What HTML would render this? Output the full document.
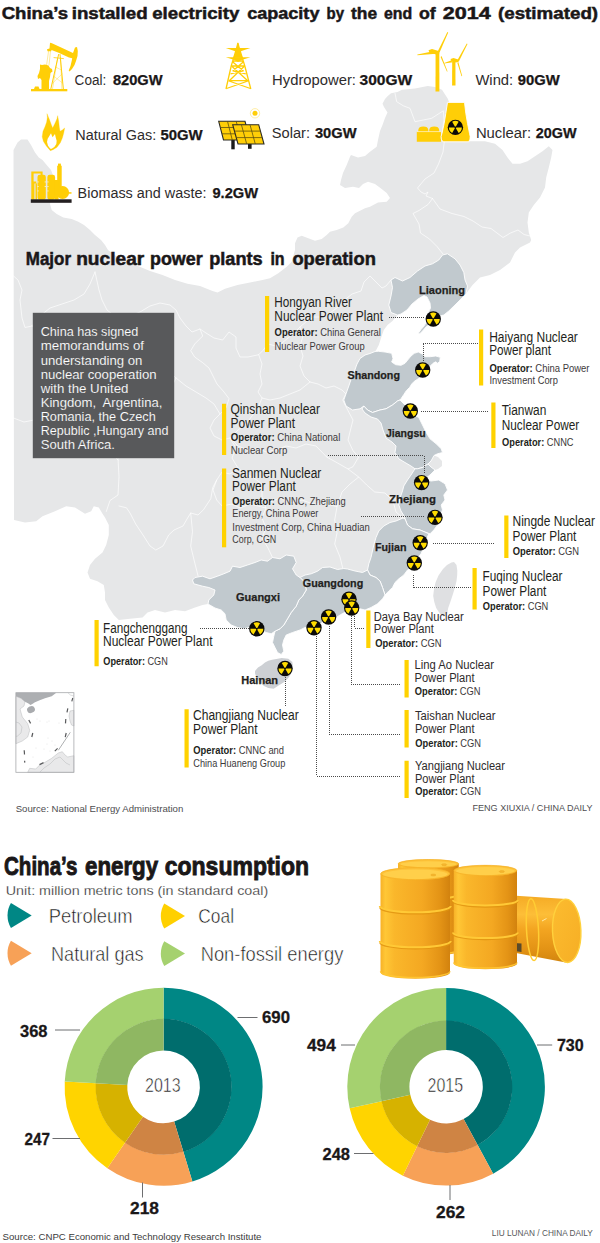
<!DOCTYPE html><html><head><meta charset="utf-8"><title>China energy</title>
<style>html,body{margin:0;padding:0;background:#fff}body{width:600px;height:1243px;overflow:hidden;font-family:"Liberation Sans",sans-serif}svg{display:block}text{font-family:"Liberation Sans",sans-serif}</style></head><body>
<svg width="600" height="1243" viewBox="0 0 600 1243">
<defs>
<linearGradient id="bg1" x1="0" x2="1" y1="0" y2="0"><stop offset="0" stop-color="#f7b127"/><stop offset="0.07" stop-color="#ffc736"/><stop offset="0.2" stop-color="#fab72b"/><stop offset="0.6" stop-color="#f4a822"/><stop offset="0.85" stop-color="#e49416"/><stop offset="1" stop-color="#d2820e"/></linearGradient>
<linearGradient id="bg2" x1="0" x2="0" y1="0" y2="1"><stop offset="0" stop-color="#f5ab25"/><stop offset="0.28" stop-color="#fdbe38"/><stop offset="0.5" stop-color="#f3a521"/><stop offset="0.8" stop-color="#e39315"/><stop offset="1" stop-color="#d2850e"/></linearGradient>
<linearGradient id="bg3" x1="0" x2="1" y1="0" y2="1"><stop offset="0" stop-color="#fcbc30"/><stop offset="1" stop-color="#f6ae24"/></linearGradient>
</defs>
<g id="map">
<path d="M13.5,150.0 L17.5,142.5 L21.0,139.5 L27.5,139.5 L31.0,145.0 L35.0,152.5 L38.8,157.5 L42.5,160.0 L47.5,166.0 L51.0,170.0 L54.0,178.0 L54.0,190.0 L51.0,200.0 L50.0,204.0 L51.7,210.0 L56.7,214.0 L63.3,217.5 L71.7,219.0 L78.3,221.7 L84.0,225.0 L90.0,230.0 L95.0,235.0 L101.0,240.0 L105.0,245.0 L108.0,250.0 L116.0,256.0 L126.0,261.0 L138.0,266.0 L150.0,271.0 L162.5,275.0 L175.0,280.0 L187.5,283.8 L200.0,286.0 L212.5,291.0 L217.5,292.5 L225.0,288.8 L237.5,285.0 L250.0,282.5 L262.5,280.0 L270.0,278.3 L278.3,273.3 L286.7,266.7 L291.7,261.7 L295.0,250.0 L295.0,243.3 L297.5,237.5 L301.7,235.8 L308.3,238.3 L315.0,240.8 L321.7,239.0 L326.7,235.0 L330.0,231.7 L336.7,230.0 L343.3,227.5 L348.3,223.3 L351.7,216.7 L355.0,213.3 L360.0,210.8 L365.0,208.3 L370.0,206.7 L378.0,202.5 L386.7,201.7 L390.0,198.0 L386.7,193.0 L381.7,189.0 L375.0,184.0 L368.0,181.7 L363.0,184.0 L359.0,188.0 L353.0,186.7 L345.0,188.0 L340.0,185.0 L341.0,180.0 L343.0,173.0 L346.7,165.0 L350.0,156.7 L351.0,155.0 L358.0,157.5 L365.0,156.0 L370.0,151.7 L376.7,146.7 L378.0,140.0 L380.0,131.0 L382.5,125.0 L385.0,118.0 L387.5,112.5 L384.0,107.0 L382.5,103.8 L385.0,99.0 L387.5,96.2 L391.0,93.3 L397.5,92.0 L402.0,89.7 L415.0,88.5 L427.7,86.0 L435.0,87.0 L442.0,89.7 L447.8,98.8 L452.0,110.0 L458.0,122.0 L463.0,132.0 L468.0,141.0 L470.0,141.2 L485.0,141.2 L495.0,143.8 L502.5,150.0 L507.5,157.5 L512.5,163.8 L520.0,163.8 L527.5,161.2 L535.0,156.2 L542.5,151.2 L548.8,146.2 L552.5,150.0 L551.2,157.5 L548.8,167.5 L546.2,177.5 L545.0,187.5 L540.0,197.5 L533.8,205.0 L528.8,212.5 L527.5,222.5 L528.8,232.5 L531.2,240.0 L530.0,242.5 L520.0,247.5 L515.0,252.5 L510.0,262.5 L500.0,270.0 L490.0,275.0 L480.0,277.5 L472.5,285.0 L466.0,293.8 L460.0,300.0 L455.0,305.0 L448.8,311.0 L443.8,315.0 L440.0,316.0 L436.0,321.0 L430.0,324.0 L426.0,327.0 L422.5,331.0 L419.5,334.0 L418.5,333.0 L421.0,329.5 L424.0,326.0 L426.5,322.0 L428.0,313.0 L430.5,308.0 L430.0,303.0 L427.0,297.0 L424.0,295.5 L418.0,299.0 L412.0,304.0 L407.0,310.0 L401.0,314.0 L397.5,315.0 L392.5,321.0 L387.5,325.0 L383.8,330.0 L381.2,337.5 L378.8,345.0 L376.2,350.0 L375.0,351.5 L378.3,351.3 L385.0,352.0 L391.7,353.3 L393.0,358.7 L391.7,362.0 L395.7,364.7 L401.0,365.3 L405.0,363.3 L407.7,360.0 L411.0,356.0 L414.3,353.3 L418.3,352.0 L422.3,354.0 L425.0,356.7 L430.3,356.7 L435.7,356.0 L440.3,357.3 L439.7,361.3 L437.7,363.3 L435.7,361.8 L433.0,363.3 L430.3,366.0 L426.0,371.0 L422.0,375.0 L418.3,378.7 L414.3,381.3 L411.7,384.0 L409.7,387.3 L406.3,390.7 L403.7,394.7 L401.0,398.7 L400.0,400.0 L405.0,405.0 L410.0,410.0 L414.0,415.0 L418.8,417.5 L422.5,425.0 L426.2,432.5 L430.0,438.8 L436.2,443.8 L441.2,448.8 L442.5,452.5 L437.5,453.8 L434.0,455.5 L438.0,457.0 L442.0,461.0 L442.0,466.0 L438.0,469.0 L435.0,470.0 L430.0,475.0 L425.0,478.8 L431.0,481.0 L438.8,480.0 L445.0,483.8 L447.5,490.0 L443.8,495.0 L445.0,500.0 L441.2,505.0 L442.5,510.0 L440.0,516.0 L437.5,525.0 L433.8,530.0 L430.0,533.8 L428.8,533.8 L426.0,540.0 L423.8,547.5 L421.0,553.8 L416.0,560.0 L412.0,566.0 L407.5,570.0 L403.8,575.0 L398.8,578.8 L395.0,582.5 L392.5,587.5 L388.8,591.0 L385.0,595.0 L382.5,598.8 L377.5,603.8 L371.0,607.5 L365.0,610.0 L360.0,608.8 L355.0,608.0 L350.0,610.0 L342.5,613.5 L336.2,617.5 L328.8,619.0 L320.0,623.8 L313.8,627.5 L305.0,627.5 L300.0,630.0 L292.5,632.5 L286.2,635.0 L283.8,640.0 L282.5,645.0 L283.8,651.2 L281.2,654.5 L277.5,652.5 L275.0,647.5 L272.5,642.5 L273.8,636.2 L275.0,631.2 L271.2,633.8 L266.2,632.5 L260.0,630.0 L255.0,629.0 L248.8,627.5 L243.8,628.8 L237.5,627.5 L231.2,625.0 L226.2,620.0 L225.0,613.8 L221.2,610.0 L215.0,608.0 L208.0,604.0 L202.5,605.0 L195.0,607.5 L185.0,611.2 L175.0,610.0 L165.0,612.5 L155.0,610.0 L147.5,612.5 L142.5,617.5 L130.0,618.8 L118.8,620.0 L113.8,615.0 L108.8,607.5 L105.0,600.0 L105.0,592.5 L103.8,585.0 L97.5,581.2 L90.0,578.8 L87.5,572.5 L90.0,565.0 L95.0,558.8 L102.5,552.5 L106.2,545.0 L108.8,535.0 L108.8,525.0 L105.0,517.5 L102.5,513.8 L98.8,507.5 L93.8,506.2 L91.2,511.2 L85.0,513.8 L75.0,507.5 L66.2,506.2 L55.0,511.2 L42.5,516.2 L36.2,521.2 L25.0,522.5 L14.0,520.0Z" fill="#e6e7e8"/>
<path d="M451.5,562.5 L454.0,562.0 L456.5,565.0 L457.3,570.5 L457.2,575.0 L456.5,581.0 L454.8,588.0 L452.8,594.5 L450.5,601.5 L448.2,608.0 L447.3,613.0 L446.2,616.3 L443.5,616.5 L441.5,615.5 L438.8,612.0 L436.2,608.0 L434.3,602.0 L433.2,596.0 L434.0,589.0 L435.5,582.5 L438.5,575.5 L443.0,569.0 L447.0,565.0Z" fill="#dfe0e2"/>
<path d="M395.0,93.3 L396.7,101.7 L403.3,105.8 L410.0,108.3 L412.5,115.0 L415.0,121.7 L423.3,120.0 L431.7,118.3 L438.3,114.0 L443.3,110.8 L444.0,120.0 L442.5,130.0 L444.5,140.0 L443.0,152.0 L438.5,164.0 L434.0,173.0 L425.0,179.0 L417.5,188.0 L421.0,192.0 L425.0,194.0 L428.0,192.0 L426.0,196.0 L432.5,198.5" fill="none" stroke="#fff" stroke-width="0.8" stroke-linejoin="round" stroke-linecap="round" opacity="0.85"/>
<path d="M432.5,198.5 L440.0,209.0 L452.0,213.5 L464.0,216.5 L473.0,221.0 L482.0,227.0 L491.0,228.5 L497.0,233.0 L503.0,237.5 L510.5,233.0 L518.0,230.0 L524.0,234.5 L530.0,236.0" fill="none" stroke="#fff" stroke-width="0.8" stroke-linejoin="round" stroke-linecap="round" opacity="0.85"/>
<path d="M432.5,198.5 L428.0,204.5 L419.0,210.5 L413.0,213.5 L419.0,224.0 L420.5,233.0 L429.5,239.0 L437.0,246.5 L443.0,254.0" fill="none" stroke="#fff" stroke-width="0.8" stroke-linejoin="round" stroke-linecap="round" opacity="0.85"/>
<path d="M391.0,280.0 L386.0,286.0 L382.0,288.0 L376.0,282.0 L370.0,276.0 L364.0,282.0 L361.0,291.0 L352.0,294.0 L344.5,300.0 L338.0,307.0 L330.0,313.0 L322.0,317.0 L314.0,317.0 L307.0,321.0 L300.0,327.0 L294.0,333.0 L288.0,338.0 L282.0,343.0 L276.0,346.0 L268.0,344.0 L262.7,350.7 L258.7,354.7 L248.0,357.0 L240.0,357.0 L236.0,348.0 L236.0,337.0 L229.0,332.0 L222.7,340.0 L214.0,338.0 L206.0,333.0 L200.0,329.0 L192.0,332.0 L186.0,326.0 L180.0,318.0 L176.0,310.0 L170.0,305.0 L160.0,303.0 L150.0,306.0 L140.0,312.0 L130.0,316.0 L122.0,317.0 L112.0,314.0 L107.0,310.0 L102.0,300.0 L99.0,290.0 L97.0,281.0 L95.0,272.0" fill="none" stroke="#fff" stroke-width="0.8" stroke-linejoin="round" stroke-linecap="round" opacity="0.85"/>
<path d="M300.0,327.0 L303.0,336.0 L300.0,346.0 L303.0,356.0 L300.0,366.0 L304.0,376.0 L310.0,382.0 L318.0,384.0 L326.0,388.0 L334.0,386.0 L342.0,390.0 L346.0,394.0" fill="none" stroke="#fff" stroke-width="0.8" stroke-linejoin="round" stroke-linecap="round" opacity="0.85"/>
<path d="M258.7,354.7 L262.0,364.0 L260.0,374.0 L262.0,384.0 L258.0,392.0 L262.0,398.0 L270.0,400.0 L280.0,398.0 L290.0,394.0 L300.0,390.0 L310.0,382.0" fill="none" stroke="#fff" stroke-width="0.8" stroke-linejoin="round" stroke-linecap="round" opacity="0.85"/>
<path d="M200.0,329.0 L202.7,336.0 L194.7,344.0 L190.7,350.7 L194.7,357.0 L202.7,362.7 L209.0,368.0 L213.0,376.0 L217.0,384.0 L224.0,392.0 L229.0,398.7 L226.0,408.0 L220.0,414.0 L214.0,420.0 L210.0,428.0 L214.0,436.0 L222.0,440.0 L230.0,438.0" fill="none" stroke="#fff" stroke-width="0.8" stroke-linejoin="round" stroke-linecap="round" opacity="0.85"/>
<path d="M262.0,398.0 L258.0,408.0 L252.0,416.0 L246.0,424.0 L238.0,430.0 L230.0,438.0 L238.0,446.0 L248.0,450.0 L258.0,448.0 L266.0,452.0 L276.0,450.0 L286.0,446.0 L296.0,448.0 L306.0,444.0 L316.0,446.0 L326.7,457.0" fill="none" stroke="#fff" stroke-width="0.8" stroke-linejoin="round" stroke-linecap="round" opacity="0.85"/>
<path d="M346.0,394.0 L342.7,400.0 L348.0,410.7 L353.0,420.0 L350.7,429.0 L348.0,440.0 L353.0,450.7 L358.7,457.0 L353.0,466.7 L348.0,469.0 L337.0,462.7 L326.7,457.0" fill="none" stroke="#fff" stroke-width="0.8" stroke-linejoin="round" stroke-linecap="round" opacity="0.85"/>
<path d="M348.0,469.0 L358.7,477.0 L366.7,485.0 L374.7,492.0 L385.0,493.0 L393.0,501.0 L396.0,512.0 L403.0,518.0" fill="none" stroke="#fff" stroke-width="0.8" stroke-linejoin="round" stroke-linecap="round" opacity="0.85"/>
<path d="M358.7,477.0 L350.0,484.0 L342.0,492.0 L337.0,506.7 L326.0,504.0 L313.0,504.0 L302.0,500.0 L290.0,503.0 L280.0,498.0 L270.0,502.0 L262.0,498.0" fill="none" stroke="#fff" stroke-width="0.8" stroke-linejoin="round" stroke-linecap="round" opacity="0.85"/>
<path d="M337.0,506.7 L334.7,520.0 L337.0,533.0 L334.7,544.0 L340.0,557.0 L342.7,568.0" fill="none" stroke="#fff" stroke-width="0.8" stroke-linejoin="round" stroke-linecap="round" opacity="0.85"/>
<path d="M262.0,498.0 L266.0,508.0 L262.0,518.0 L266.0,528.0 L262.0,538.0 L268.0,548.0 L272.5,557.5" fill="none" stroke="#fff" stroke-width="0.8" stroke-linejoin="round" stroke-linecap="round" opacity="0.85"/>
<path d="M230.0,438.0 L236.0,448.0 L232.0,458.0 L238.0,468.0 L246.0,474.0 L254.0,478.0 L262.0,484.0 L262.0,498.0" fill="none" stroke="#fff" stroke-width="0.8" stroke-linejoin="round" stroke-linecap="round" opacity="0.85"/>
<path d="M238.0,468.0 L230.0,474.0 L222.0,472.0 L216.7,480.0 L213.0,490.0 L216.7,500.0 L222.0,506.0 L232.0,504.0 L240.0,508.0 L250.0,504.0 L258.0,506.0 L266.0,508.0" fill="none" stroke="#fff" stroke-width="0.8" stroke-linejoin="round" stroke-linecap="round" opacity="0.85"/>
<path d="M119.0,506.0 L126.5,507.8 L130.0,513.0 L135.7,524.0 L143.0,535.0 L150.0,546.0 L155.8,550.0 L163.0,546.0 L168.7,535.0 L174.0,530.0 L183.0,526.0 L187.0,519.0 L190.7,513.0 L198.0,515.0 L203.5,509.7 L210.8,498.7 L212.7,487.7 L216.7,480.0" fill="none" stroke="#fff" stroke-width="0.8" stroke-linejoin="round" stroke-linecap="round" opacity="0.85"/>
<path d="M190.7,513.0 L192.5,531.7 L190.7,546.0 L194.3,561.0 L198.0,575.7" fill="none" stroke="#fff" stroke-width="0.8" stroke-linejoin="round" stroke-linecap="round" opacity="0.85"/>
<path d="M13.5,418.0 L24.0,422.0 L34.0,420.0 L44.0,426.0 L56.0,430.0 L68.0,428.0 L80.0,434.0 L92.0,440.0 L104.0,446.0 L112.0,454.0 L118.0,460.0" fill="none" stroke="#fff" stroke-width="0.8" stroke-linejoin="round" stroke-linecap="round" opacity="0.85"/>
<path d="M118.0,458.3 L119.0,476.7 L118.0,495.0 L110.0,500.5 L106.3,511.5" fill="none" stroke="#fff" stroke-width="0.8" stroke-linejoin="round" stroke-linecap="round" opacity="0.85"/>
<path d="M95.0,272.0 L90.0,284.0 L84.0,294.0 L74.0,300.0 L62.0,304.0 L50.0,308.0 L40.0,316.0 L32.0,326.0 L25.0,327.5 L22.0,318.0 L20.0,300.0 L22.0,290.0 L18.0,280.0 L13.5,276.0" fill="none" stroke="#fff" stroke-width="0.8" stroke-linejoin="round" stroke-linecap="round" opacity="0.85"/>
<path d="M32.0,326.0 L44.0,336.0 L58.0,342.0 L72.0,346.0 L88.0,344.0 L102.0,348.0 L116.0,356.0 L130.0,362.0 L144.0,366.0 L156.0,362.0 L166.0,368.0 L176.0,378.0 L186.0,386.0 L196.0,392.0 L206.0,398.0 L214.0,404.0 L220.0,414.0" fill="none" stroke="#fff" stroke-width="0.8" stroke-linejoin="round" stroke-linecap="round" opacity="0.85"/>
<path d="M176.0,378.0 L170.0,390.0 L160.0,398.0 L150.0,406.0 L140.0,414.0 L130.0,424.0 L122.0,436.0 L116.0,448.0 L112.0,454.0" fill="none" stroke="#fff" stroke-width="0.8" stroke-linejoin="round" stroke-linecap="round" opacity="0.85"/>
<path d="M447.5,253.8 L455.0,258.8 L460.0,265.0 L463.8,272.5 L465.0,280.0 L467.5,286.0 L466.0,293.8 L460.0,300.0 L455.0,305.0 L448.8,311.0 L443.8,315.0 L440.0,316.0 L436.0,321.0 L430.0,324.0 L426.0,327.0 L422.5,331.0 L419.5,334.0 L418.5,333.0 L421.0,329.5 L424.0,326.0 L426.5,322.0 L428.0,313.0 L430.5,308.0 L430.0,303.0 L427.0,297.0 L424.0,295.5 L418.0,299.0 L412.0,304.0 L407.0,310.0 L401.0,314.0 L397.5,315.0 L391.0,312.5 L388.8,305.0 L391.0,296.0 L392.5,287.5 L391.0,280.0 L395.0,277.5 L402.5,281.0 L410.0,277.5 L417.5,271.0 L425.0,266.0 L432.5,263.8 L438.8,260.0 L442.5,255.0Z" fill="#c1c9ce" stroke="#fff" stroke-width="0.9" stroke-linejoin="round"/>
<path d="M375.0,351.5 L378.3,351.3 L385.0,352.0 L391.7,353.3 L393.0,358.7 L391.7,362.0 L395.7,364.7 L401.0,365.3 L405.0,363.3 L407.7,360.0 L411.0,356.0 L414.3,353.3 L418.3,352.0 L422.3,354.0 L425.0,356.7 L430.3,356.7 L435.7,356.0 L440.3,357.3 L439.7,361.3 L437.7,363.3 L435.7,361.8 L433.0,363.3 L430.3,366.0 L426.0,371.0 L422.0,375.0 L418.3,378.7 L414.3,381.3 L411.7,384.0 L409.7,387.3 L406.3,390.7 L403.7,394.7 L401.0,398.7 L400.0,400.0 L397.5,401.0 L392.5,405.0 L386.0,408.8 L380.0,410.0 L372.5,412.5 L367.5,410.0 L363.8,406.0 L360.0,408.8 L352.5,410.0 L346.0,406.0 L343.8,400.0 L346.0,393.8 L348.8,386.0 L351.5,378.0 L354.5,371.0 L357.0,364.0 L360.0,358.5 L365.0,355.0 L370.0,353.5Z" fill="#c1c9ce" stroke="#fff" stroke-width="0.9" stroke-linejoin="round"/>
<path d="M363.8,406.0 L367.5,410.0 L372.5,412.5 L380.0,410.0 L386.0,408.8 L392.5,405.0 L397.5,401.0 L400.0,400.0 L405.0,405.0 L410.0,410.0 L414.0,415.0 L418.8,417.5 L422.5,425.0 L426.2,432.5 L430.0,438.8 L436.2,443.8 L441.2,448.8 L442.5,452.5 L437.5,453.8 L434.0,455.5 L431.0,461.0 L428.0,464.0 L422.5,467.5 L417.5,468.8 L415.0,468.8 L411.0,466.0 L405.0,462.5 L398.8,458.8 L395.0,452.5 L396.0,446.0 L392.0,442.0 L386.0,438.0 L383.0,430.0 L381.0,423.0 L377.5,419.0 L371.0,417.0 L365.0,413.0 L362.0,409.0Z" fill="#c1c9ce" stroke="#fff" stroke-width="0.9" stroke-linejoin="round"/>
<path d="M415.0,468.8 L417.5,468.8 L422.5,467.5 L428.0,464.0 L431.0,467.0 L435.0,470.0 L430.0,475.0 L425.0,478.8 L431.0,481.0 L438.8,480.0 L445.0,483.8 L447.5,490.0 L443.8,495.0 L445.0,500.0 L441.2,505.0 L442.5,510.0 L440.0,516.0 L437.5,525.0 L433.8,530.0 L430.0,533.8 L426.0,532.5 L420.0,530.0 L412.5,528.8 L407.5,525.0 L405.0,518.8 L405.0,517.5 L401.0,511.0 L398.8,505.0 L400.0,498.0 L402.5,491.0 L403.8,486.0 L407.5,480.0 L411.0,475.0Z" fill="#c1c9ce" stroke="#fff" stroke-width="0.9" stroke-linejoin="round"/>
<path d="M403.0,518.0 L405.0,518.8 L407.5,525.0 L412.5,528.8 L420.0,530.0 L426.0,532.5 L428.8,533.8 L426.0,540.0 L423.8,547.5 L421.0,553.8 L416.0,560.0 L412.0,566.0 L407.5,570.0 L403.8,575.0 L398.8,578.8 L395.0,582.5 L392.5,587.5 L388.8,591.0 L385.0,595.0 L382.5,587.5 L380.0,581.0 L376.0,577.5 L370.0,575.0 L367.5,570.0 L368.8,563.8 L371.0,557.5 L373.8,545.0 L376.0,537.5 L378.8,531.0 L383.8,526.0 L390.0,522.5 L396.0,521.0Z" fill="#c1c9ce" stroke="#fff" stroke-width="0.9" stroke-linejoin="round"/>
<path d="M300.0,577.5 L305.0,575.0 L311.2,573.8 L317.5,571.2 L322.5,567.5 L330.0,567.0 L337.5,569.5 L343.8,568.5 L347.5,569.0 L355.0,571.0 L362.5,572.5 L367.5,570.0 L370.0,575.0 L376.0,577.5 L380.0,581.0 L382.5,587.5 L385.0,595.0 L382.5,598.8 L377.5,603.8 L371.0,607.5 L365.0,610.0 L360.0,608.8 L355.0,608.0 L350.0,610.0 L342.5,613.5 L336.2,617.5 L328.8,619.0 L320.0,623.8 L313.8,627.5 L305.0,627.5 L300.0,630.0 L292.5,632.5 L286.2,635.0 L283.8,640.0 L282.5,645.0 L283.8,651.2 L281.2,654.5 L277.5,652.5 L275.0,647.5 L272.5,642.5 L273.8,636.2 L275.0,631.2 L280.0,628.8 L283.8,625.0 L287.5,618.8 L291.2,612.5 L296.2,606.2 L298.8,600.0 L302.5,596.2 L306.2,590.0 L305.0,582.5Z" fill="#c1c9ce" stroke="#fff" stroke-width="0.9" stroke-linejoin="round"/>
<path d="M192.5,580.0 L195.0,577.5 L202.5,576.2 L210.0,578.8 L217.5,576.2 L223.8,573.8 L230.0,571.2 L232.5,566.2 L240.0,567.5 L247.5,565.0 L255.0,562.5 L261.2,560.0 L267.5,561.2 L272.5,557.5 L280.0,558.8 L286.2,555.0 L293.8,556.2 L296.2,562.5 L292.5,568.8 L296.2,575.0 L300.0,577.5 L305.0,582.5 L306.2,590.0 L302.5,596.2 L298.8,600.0 L296.2,606.2 L291.2,612.5 L287.5,618.8 L283.8,625.0 L280.0,628.8 L275.0,631.2 L271.2,633.8 L266.2,632.5 L260.0,630.0 L255.0,629.0 L248.8,627.5 L243.8,628.8 L237.5,627.5 L231.2,625.0 L226.2,620.0 L225.0,613.8 L221.2,610.0 L215.0,608.0 L208.0,604.0 L208.8,600.0 L213.8,595.0 L215.0,590.0 L208.8,587.5 L202.5,586.2 L193.8,583.8Z" fill="#c1c9ce" stroke="#fff" stroke-width="0.9" stroke-linejoin="round"/>
<path d="M255.0,671.0 L258.0,667.5 L261.7,665.3 L265.0,662.5 L268.3,660.7 L272.0,659.8 L275.0,659.3 L281.7,658.0 L288.3,658.7 L292.3,662.0 L293.0,667.0 L292.0,672.0 L289.0,677.0 L285.0,681.5 L279.0,685.3 L273.7,688.7 L268.3,688.0 L264.0,686.0 L261.7,684.0 L258.5,680.5 L256.3,677.3 L255.0,673.3Z" fill="#cdd0d4"/>
<g id="inset"><rect x="15.9" y="692.7" width="58.00000000000001" height="79.6" fill="#fff"/><path d="M15.9,696.3 L21,698.3 L25,701.7 L24,706 L20,709 L22.3,717 L27.7,723.7 L29.7,730.3 L27.7,737 L22.3,741 L15.9,743.7Z" fill="#e9e9ea" stroke="#b9bbbd" stroke-width="0.5"/><path d="M15.9,722 L19,723 L22,727 L21,733 L17.5,736 L15.9,736.5" fill="none" stroke="#b9bbbd" stroke-width="0.5"/><path d="M15.9,692.7 L56.3,692.7 L51.7,696.3 L45,698.3 L39.7,700.3 L35,702.3 L32.3,703.9 L30.5,705 L28,703.2 L25,701.7 L21,698.3 L15.9,696.3Z" fill="#adafb2"/><ellipse cx="31" cy="709.6" rx="4" ry="3.3" fill="#a9abae" transform="rotate(-25 31 709.6)"/><path d="M27.7,772.3 L29.7,768.3 L35.7,769 L39.7,765 L45,762.3 L51.7,758.3 L58.3,753 L62.3,751.7 L65,755 L67.7,757 L73.9,755.7 L73.9,772.3Z" fill="#e9e9ea" stroke="#b9bbbd" stroke-width="0.5"/><path d="M39.7,772.3 L44,768 L50,764 L55,759 L60,757 L63,760 L66,763 L70,765" fill="none" stroke="#b9bbbd" stroke-width="0.5"/><path d="M73.9,710.3 L70,711 L69,716 L70,721 L71.5,725 L73.9,726Z" fill="#e9e9ea" stroke="#b9bbbd" stroke-width="0.5"/><path d="M70.3,732.3 L58.3,750.3" stroke="#a5a7a9" stroke-width="0.9" fill="none"/><path d="M67.9,692.7 L70.4,695 L73.9,696" fill="none" stroke="#b9bbbd" stroke-width="0.5"/><line x1="28.8" y1="720" x2="30.6" y2="723.4" stroke="#58595b" stroke-width="1.2"/><line x1="32.8" y1="733" x2="31.8" y2="737" stroke="#58595b" stroke-width="1.2"/><line x1="24.2" y1="750.3" x2="24.5" y2="754.5" stroke="#58595b" stroke-width="1.2"/><line x1="24.6" y1="760.8" x2="24.8" y2="762.6" stroke="#58595b" stroke-width="1.2"/><line x1="39.5" y1="764.6" x2="43.5" y2="762.6" stroke="#58595b" stroke-width="1.2"/><line x1="54.8" y1="751.2" x2="57.6" y2="748.4" stroke="#58595b" stroke-width="1.2"/><line x1="66.2" y1="733" x2="65.2" y2="737.2" stroke="#58595b" stroke-width="1.2"/><line x1="65.8" y1="719" x2="65.5" y2="723.4" stroke="#58595b" stroke-width="1.2"/><line x1="67.8" y1="708.4" x2="67" y2="712.4" stroke="#58595b" stroke-width="1.2"/><line x1="72.8" y1="698" x2="71.8" y2="701.4" stroke="#58595b" stroke-width="1.2"/><circle cx="37" cy="719" r="0.4" fill="#c3c5c7"/><circle cx="40" cy="721" r="0.4" fill="#c3c5c7"/><circle cx="47" cy="722" r="0.4" fill="#c3c5c7"/><circle cx="49" cy="721" r="0.4" fill="#c3c5c7"/><circle cx="48" cy="738" r="0.4" fill="#c3c5c7"/><circle cx="52" cy="741" r="0.4" fill="#c3c5c7"/><circle cx="47" cy="744" r="0.4" fill="#c3c5c7"/><circle cx="55" cy="745" r="0.4" fill="#c3c5c7"/><circle cx="44" cy="749" r="0.4" fill="#c3c5c7"/><circle cx="50" cy="751" r="0.4" fill="#c3c5c7"/><circle cx="59" cy="723" r="0.4" fill="#c3c5c7"/><circle cx="36" cy="748" r="0.4" fill="#c3c5c7"/><circle cx="33" cy="757" r="0.4" fill="#c3c5c7"/><rect x="15.9" y="692.7" width="58.00000000000001" height="79.6" fill="none" stroke="#a7a9ac" stroke-width="0.8"/></g>
</g>
<g id="icons">
<g fill="#ffce07" stroke="none">
<path d="M50.5,42.8 L52.5,43.5 L73,53 L75,47.5 L77,47 L77.8,51 L77.5,56 L76,61 L74.5,65 L72,69 L69.5,71.5 L68.7,70.5 L70.5,66 L71.8,60.5 L72.2,58.2 L69,57.5 L58,52.5 L51.5,50 L51.2,51.2 L47.5,51.2 L47,49.2 L49.5,48.5 L50,43Z"/>
<path d="M40,64.5 L42,65 L45,64.5 L48.5,65.5 L50,68 L52,69 L52.5,71.5 L50.5,73 L50,77 L49,81 L49,89.5 L41.5,89.5 L41.5,80 L40,78 L38,79 L37.5,76 L39,73 L40,69Z"/>
<rect x="31" y="89" width="36.3" height="2.3"/>
<path d="M34,89 L35,86.5 L38.5,86.5 L39.5,89Z"/>
</g>
<g fill="none" stroke="#ffce07" stroke-linecap="round">
<path d="M58.6,54.5 L50.7,89.5 M60,54.5 L63.4,89.5" stroke-width="1"/>
<path d="M57.6,58 L52.4,89.5 M60.6,58 L61.9,89.5 M48.6,51 L46.6,65 M50.5,51 L49,65" stroke-width="0.5" opacity="0.8"/>
<path d="M54,57.6 L63.5,58.6" stroke-width="0.8"/>
<path d="M53.5,76 L62.5,83 M52.3,83.5 L62,74 M55.5,67 L61.4,70" stroke-width="0.45" opacity="0.75"/>
</g>
<g fill="none" stroke="#ffce07" stroke-width="1.3" stroke-linejoin="round">
<path d="M237.9,43 L236.6,48.3 L231.2,66 L226,89 M237.9,43 L239.3,48.3 L244.8,66 L250.8,89"/>
<path d="M231.5,66 L248,81 L226.5,88.5 M244.6,66 L229,81 L250.4,88.5 M229.2,80.7 L248,80.7 M233,61 L243,61 M231.3,66 L244.8,66 M232.2,61.5 L243.2,70.8 L230.5,73.8 M243.8,61.5 L233,70.8 L245.8,73.8 M233.6,57.8 L242.4,57.8 L238,53 Z M235,52 L241,52"/>
</g>
<g fill="#ffce07"><path d="M225.8,48 L250.4,48 L241.5,51 L238,53.6 L234.5,51Z"/><path d="M225.8,57.2 L250.4,57.2 L241.5,60 L238,62 L234.5,60Z"/><path d="M237.9,42.3 L239.6,49 L236.3,49Z"/><path d="M236,48 L240,48 L241.6,57.5 L234.4,57.5Z"/></g>
<g fill="#ffce07">
<path d="M435.6,53.5 L439.3,53.5 L439.4,91.5 L435.5,91.5Z"/>
<path d="M428.5,50.2 L432,49 L438.6,51 L439.4,54 L436,54.6 L429.3,52.2Z"/>
<path d="M437.6,51.8 L447.4,32 L448.2,32.4 L439.2,53.2Z"/>
<path d="M436,53.8 L417.4,55.2 L417.4,54.6 L432,51.6Z"/>
<path d="M441.5,56 L447.6,71.4 L446.9,71.6 L440.6,57Z"/>
<path d="M452.2,60.5 L455.4,60.5 L455.5,85.6 L452.1,85.6Z"/>
<path d="M450.6,58.9 L453.5,58 L458.2,59.6 L458.6,62 L455.6,62.6 L451,60.8Z"/>
<path d="M457.4,60.3 L466.8,43.6 L467.5,44 L458.8,61.4Z"/>
<path d="M453,62.3 L444.2,63.6 L444.2,63 L451,60.6Z"/>
<path d="M458.3,62 L462.2,76 L461.5,76.2 L457.4,63Z"/>
</g>
<path d="M50.33,150.67 L46.33,146.00 L43.33,141.33 L42.20,136.67 L43.00,131.33 L45.00,126.67 L46.67,122.00 L47.33,117.33 L47.00,113.67 L49.33,119.33 L51.33,124.67 L52.67,128.00 L55.00,123.33 L57.00,118.67 L57.67,115.67 L58.67,121.33 L59.33,127.33 L60.00,131.33 L62.33,130.00 L64.67,128.00 L63.67,133.33 L62.33,138.00 L60.33,142.67 L57.00,147.33 L53.00,149.67Z" fill="#ffce07" stroke="#ffce07" stroke-width="0.3" stroke-linejoin="round"/>
<path d="M50.33,148.67 L48.00,145.67 L47.00,142.00 L47.67,138.67 L49.33,136.00 L51.00,133.33 L52.00,136.00 L52.67,137.33 L54.00,135.33 L55.00,134.00 L55.67,137.33 L56.67,140.67 L56.33,144.00 L54.33,147.00 L51.67,148.67Z" fill="#fff"/>
<g>
<circle cx="255" cy="113.3" r="4.7" fill="none" stroke="#ffe680" stroke-width="0.7"/><circle cx="255" cy="113.3" r="2.5" fill="#ffce07"/>
<rect x="231.3" y="139" width="3.4" height="10.3" fill="#1a1a1a"/><rect x="248" y="143" width="3.6" height="5.8" fill="#1a1a1a"/>
<path d="M218.7,121.3 L245,121.3 L250,140 L223.5,140Z" fill="#ffce07" stroke="#2b2a25" stroke-width="1.1"/>
<path d="M227.5,121.3 L232.3,140 M236.2,121.3 L241.2,140 M220.3,127.5 L246.7,127.5 M222,133.8 L248.4,133.8" stroke="#5f5110" stroke-width="0.8" fill="none"/>
<path d="M232.7,124.7 L258.7,124.7 L264,144 L238,144Z" fill="#ffce07" stroke="#2b2a25" stroke-width="1.1"/>
<path d="M241.4,124.7 L246.7,144 M250,124.7 L255.3,144 M234.5,131.1 L260.5,131.1 M236.2,137.6 L262.2,137.6" stroke="#5f5110" stroke-width="0.8" fill="none"/>
</g>
<g>
<path d="M416.8,131.6 L418.3,131.6 L418.3,130 Q418.6,126.6 423.3,126.6 Q428,126.6 428.3,130 L428.3,131.6 L429.2,131.6 L429.2,130 Q429.5,126.6 434.2,126.6 Q438.9,126.6 439.2,130 L439.2,131.6 L441,131.6 L441,141.7 L416.8,141.7Z" fill="#ffce07"/>
<path d="M416.8,131.6 L441,131.6" stroke="#fff" stroke-width="0.6"/>
<path d="M447.5,102.4 L464.5,102.4 L465.8,113.3 L467.5,123.3 L469.5,133.3 Q470.6,136.7 470,139.2 L468.7,141.8 L442.8,141.8 L441.3,139.2 Q440.5,136.7 442,133.3 L444.2,123.3 L445.8,113.3Z" fill="#ffce07" stroke="#fff" stroke-width="0.9"/>
</g>
<circle cx="455.4" cy="127.4" r="7.7" fill="#0b0a08"/><path d="M454.90,126.53 L452.17,121.80 A6.47,6.47 0 0 1 458.63,121.80 L455.90,126.53Z" fill="#ffdc00"/><path d="M456.40,127.40 L461.87,127.40 A6.47,6.47 0 0 1 458.63,133.00 L455.90,128.27Z" fill="#ffdc00"/><path d="M454.90,128.27 L452.17,133.00 A6.47,6.47 0 0 1 448.93,127.40 L454.40,127.40Z" fill="#ffdc00"/>
<g fill="#ffce07">
<rect x="57.2" y="165.6" width="4.5" height="27" rx="0.8"/><rect x="58" y="163.6" width="2.9" height="3"/>
<circle cx="62.6" cy="192.5" r="6.5"/><rect x="68.5" y="192.2" width="3" height="1.5"/>
<rect x="37.5" y="174.8" width="8.3" height="25" rx="2.3"/><rect x="47.4" y="174.8" width="7.7" height="25" rx="2.3"/>
<rect x="54.6" y="180" width="4" height="19.6"/>
<path d="M31.3,171.5 L42.6,171.5 L42.6,176.5 L40.6,176.5 L40.6,173.6 L33.6,173.6 L33.6,181.5 L36.3,181.5 L36.3,183.4 L34.4,183.4 L34.4,199.6 L31.3,199.6Z"/>
<rect x="35.5" y="183.4" width="1.5" height="16.2"/>
</g>
<g fill="#fff" opacity="0.9"><rect x="37.5" y="181.5" width="1.1" height="0.9"/><rect x="37.5" y="186" width="1.1" height="0.9"/><rect x="37.5" y="190.5" width="1.1" height="0.9"/><rect x="44.7" y="181.5" width="1.1" height="0.9"/><rect x="44.7" y="186" width="1.1" height="0.9"/><rect x="47.4" y="181.5" width="1.1" height="0.9"/><rect x="47.4" y="186" width="1.1" height="0.9"/><rect x="47.4" y="190.5" width="1.1" height="0.9"/></g>
<rect x="30.8" y="199.3" width="40.8" height="3.5" fill="#231f20"/>
</g>
<g id="labels">
<text x="1.70" y="18.80" font-size="17" font-weight="bold" fill="#1a1718" text-anchor="start" textLength="66.44" lengthAdjust="spacingAndGlyphs" stroke="#1a1718" stroke-width="0.5">China’s</text><text x="71.70" y="18.80" font-size="17" font-weight="bold" fill="#1a1718" text-anchor="start" textLength="75.94" lengthAdjust="spacingAndGlyphs" stroke="#1a1718" stroke-width="0.5">installed</text><text x="152.20" y="18.80" font-size="17" font-weight="bold" fill="#1a1718" text-anchor="start" textLength="87.19" lengthAdjust="spacingAndGlyphs" stroke="#1a1718" stroke-width="0.5">electricity</text><text x="247.20" y="18.80" font-size="17" font-weight="bold" fill="#1a1718" text-anchor="start" textLength="72.24" lengthAdjust="spacingAndGlyphs" stroke="#1a1718" stroke-width="0.5">capacity</text><text x="326.50" y="18.80" font-size="17" font-weight="bold" fill="#1a1718" text-anchor="start" textLength="17.54" lengthAdjust="spacingAndGlyphs" stroke="#1a1718" stroke-width="0.5">by</text><text x="351.00" y="18.80" font-size="17" font-weight="bold" fill="#1a1718" text-anchor="start" textLength="26.04" lengthAdjust="spacingAndGlyphs" stroke="#1a1718" stroke-width="0.5">the</text><text x="384.00" y="18.80" font-size="17" font-weight="bold" fill="#1a1718" text-anchor="start" textLength="28.24" lengthAdjust="spacingAndGlyphs" stroke="#1a1718" stroke-width="0.5">end</text><text x="418.90" y="18.80" font-size="17" font-weight="bold" fill="#1a1718" text-anchor="start" textLength="16.74" lengthAdjust="spacingAndGlyphs" stroke="#1a1718" stroke-width="0.5">of</text><text x="442.70" y="18.80" font-size="17" font-weight="bold" fill="#1a1718" text-anchor="start" textLength="47.94" lengthAdjust="spacingAndGlyphs" stroke="#1a1718" stroke-width="0.5">2014</text><text x="497.95" y="18.80" font-size="17" font-weight="bold" fill="#1a1718" text-anchor="start" textLength="100.19" lengthAdjust="spacingAndGlyphs" stroke="#1a1718" stroke-width="0.5">(estimated)</text>
<text x="74.60" y="84.50" font-size="14" font-weight="normal" fill="#2e2b2c" text-anchor="start" textLength="31.65" lengthAdjust="spacingAndGlyphs">Coal:</text>
<text x="112.90" y="84.50" font-size="14" font-weight="bold" fill="#1a1718" text-anchor="start" textLength="49.70" lengthAdjust="spacingAndGlyphs" stroke="#1a1718" stroke-width="0.25">820GW</text>
<text x="272.10" y="85.00" font-size="14" font-weight="normal" fill="#2e2b2c" text-anchor="start" textLength="83.90" lengthAdjust="spacingAndGlyphs">Hydropower:</text>
<text x="359.50" y="85.00" font-size="14" font-weight="bold" fill="#1a1718" text-anchor="start" textLength="52.80" lengthAdjust="spacingAndGlyphs" stroke="#1a1718" stroke-width="0.25">300GW</text>
<text x="475.40" y="84.50" font-size="14" font-weight="normal" fill="#2e2b2c" text-anchor="start" textLength="37.80" lengthAdjust="spacingAndGlyphs">Wind:</text>
<text x="517.80" y="84.50" font-size="14" font-weight="bold" fill="#1a1718" text-anchor="start" textLength="42.00" lengthAdjust="spacingAndGlyphs" stroke="#1a1718" stroke-width="0.25">90GW</text>
<text x="75.35" y="140.00" font-size="14" font-weight="normal" fill="#2e2b2c" text-anchor="start" textLength="80.90" lengthAdjust="spacingAndGlyphs">Natural Gas:</text>
<text x="160.40" y="140.00" font-size="14" font-weight="bold" fill="#1a1718" text-anchor="start" textLength="42.20" lengthAdjust="spacingAndGlyphs" stroke="#1a1718" stroke-width="0.25">50GW</text>
<text x="271.80" y="138.30" font-size="14" font-weight="normal" fill="#2e2b2c" text-anchor="start" textLength="38.20" lengthAdjust="spacingAndGlyphs">Solar:</text>
<text x="314.90" y="138.30" font-size="14" font-weight="bold" fill="#1a1718" text-anchor="start" textLength="41.70" lengthAdjust="spacingAndGlyphs" stroke="#1a1718" stroke-width="0.25">30GW</text>
<text x="475.90" y="137.50" font-size="14" font-weight="normal" fill="#2e2b2c" text-anchor="start" textLength="55.30" lengthAdjust="spacingAndGlyphs">Nuclear:</text>
<text x="535.70" y="137.50" font-size="14" font-weight="bold" fill="#1a1718" text-anchor="start" textLength="40.90" lengthAdjust="spacingAndGlyphs" stroke="#1a1718" stroke-width="0.25">20GW</text>
<text x="77.60" y="198.00" font-size="14" font-weight="normal" fill="#2e2b2c" text-anchor="start" textLength="128.90" lengthAdjust="spacingAndGlyphs">Biomass and waste:</text>
<text x="212.40" y="198.00" font-size="14" font-weight="bold" fill="#1a1718" text-anchor="start" textLength="45.70" lengthAdjust="spacingAndGlyphs" stroke="#1a1718" stroke-width="0.25">9.2GW</text>
<text x="25.80" y="264.60" font-size="17.5" font-weight="bold" fill="#1a1718" text-anchor="start" textLength="45.24" lengthAdjust="spacingAndGlyphs" stroke="#1a1718" stroke-width="0.5">Major</text><text x="76.20" y="264.60" font-size="17.5" font-weight="bold" fill="#1a1718" text-anchor="start" textLength="68.04" lengthAdjust="spacingAndGlyphs" stroke="#1a1718" stroke-width="0.5">nuclear</text><text x="150.00" y="264.60" font-size="17.5" font-weight="bold" fill="#1a1718" text-anchor="start" textLength="52.64" lengthAdjust="spacingAndGlyphs" stroke="#1a1718" stroke-width="0.5">power</text><text x="209.20" y="264.60" font-size="17.5" font-weight="bold" fill="#1a1718" text-anchor="start" textLength="53.44" lengthAdjust="spacingAndGlyphs" stroke="#1a1718" stroke-width="0.5">plants</text><text x="270.40" y="264.60" font-size="17.5" font-weight="bold" fill="#1a1718" text-anchor="start" textLength="14.24" lengthAdjust="spacingAndGlyphs" stroke="#1a1718" stroke-width="0.5">in</text><text x="292.40" y="264.60" font-size="17.5" font-weight="bold" fill="#1a1718" text-anchor="start" textLength="83.44" lengthAdjust="spacingAndGlyphs" stroke="#1a1718" stroke-width="0.5">operation</text>
<rect x="32.8" y="312.8" width="141.4" height="145.4" fill="#58595b"/>
<text x="40.70" y="336.30" font-size="13" font-weight="normal" fill="#fff" text-anchor="start" textLength="97.60" lengthAdjust="spacingAndGlyphs" xml:space="preserve" stroke="#58595b" stroke-width="0.12">China has signed</text>
<text x="40.70" y="350.42" font-size="13" font-weight="normal" fill="#fff" text-anchor="start" textLength="103.30" lengthAdjust="spacingAndGlyphs" xml:space="preserve" stroke="#58595b" stroke-width="0.12">memorandums of</text>
<text x="40.70" y="364.54" font-size="13" font-weight="normal" fill="#fff" text-anchor="start" textLength="101.70" lengthAdjust="spacingAndGlyphs" xml:space="preserve" stroke="#58595b" stroke-width="0.12">understanding on</text>
<text x="40.70" y="378.66" font-size="13" font-weight="normal" fill="#fff" text-anchor="start" textLength="116.00" lengthAdjust="spacingAndGlyphs" xml:space="preserve" stroke="#58595b" stroke-width="0.12">nuclear cooperation</text>
<text x="40.70" y="392.78" font-size="13" font-weight="normal" fill="#fff" text-anchor="start" textLength="87.70" lengthAdjust="spacingAndGlyphs" xml:space="preserve" stroke="#58595b" stroke-width="0.12">with the United</text>
<text x="40.70" y="406.90" font-size="13" font-weight="normal" fill="#fff" text-anchor="start" textLength="121.70" lengthAdjust="spacingAndGlyphs" xml:space="preserve" stroke="#58595b" stroke-width="0.12">Kingdom,  Argentina,</text>
<text x="40.70" y="421.02" font-size="13" font-weight="normal" fill="#fff" text-anchor="start" textLength="115.00" lengthAdjust="spacingAndGlyphs" xml:space="preserve" stroke="#58595b" stroke-width="0.12">Romania, the Czech</text>
<text x="40.70" y="435.14" font-size="13" font-weight="normal" fill="#fff" text-anchor="start" textLength="127.70" lengthAdjust="spacingAndGlyphs" xml:space="preserve" stroke="#58595b" stroke-width="0.12">Republic ,Hungary and</text>
<text x="40.70" y="449.26" font-size="13" font-weight="normal" fill="#fff" text-anchor="start" textLength="74.30" lengthAdjust="spacingAndGlyphs" xml:space="preserve" stroke="#58595b" stroke-width="0.12">South Africa.</text>
<path d="M389,317.5 L425,317.5" fill="none" stroke="#4a4a4a" stroke-width="1" stroke-dasharray="1,1"/>
<path d="M478,343.5 L423,343.5" fill="none" stroke="#4a4a4a" stroke-width="1" stroke-dasharray="1,1"/>
<path d="M423.5,344 L423.5,362" fill="none" stroke="#4a4a4a" stroke-width="1" stroke-dasharray="1,1"/>
<path d="M421,411.5 L489,411.5" fill="none" stroke="#4a4a4a" stroke-width="1" stroke-dasharray="1,1"/>
<path d="M328,455.5 L424,455.5" fill="none" stroke="#4a4a4a" stroke-width="1" stroke-dasharray="1,1"/>
<path d="M424.5,456 L424.5,474" fill="none" stroke="#4a4a4a" stroke-width="1" stroke-dasharray="1,1"/>
<path d="M361,516.5 L424,516.5" fill="none" stroke="#4a4a4a" stroke-width="1" stroke-dasharray="1,1"/>
<path d="M433,543.5 L494,543.5" fill="none" stroke="#4a4a4a" stroke-width="1" stroke-dasharray="1,1"/>
<path d="M413.5,575 L413.5,588" fill="none" stroke="#4a4a4a" stroke-width="1" stroke-dasharray="1,1"/>
<path d="M414,587.5 L472,587.5" fill="none" stroke="#4a4a4a" stroke-width="1" stroke-dasharray="1,1"/>
<path d="M200,628.5 L249,628.5" fill="none" stroke="#4a4a4a" stroke-width="1" stroke-dasharray="1,1"/>
<path d="M285.5,677 L285.5,706" fill="none" stroke="#4a4a4a" stroke-width="1" stroke-dasharray="1,1"/>
<path d="M354.5,616 L354.5,628" fill="none" stroke="#4a4a4a" stroke-width="1" stroke-dasharray="1,1"/>
<path d="M355,628.5 L364,628.5" fill="none" stroke="#4a4a4a" stroke-width="1" stroke-dasharray="1,1"/>
<path d="M351.5,616 L351.5,684" fill="none" stroke="#4a4a4a" stroke-width="1" stroke-dasharray="1,1"/>
<path d="M351,684.5 L400,684.5" fill="none" stroke="#4a4a4a" stroke-width="1" stroke-dasharray="1,1"/>
<path d="M329.5,626 L329.5,734" fill="none" stroke="#4a4a4a" stroke-width="1" stroke-dasharray="1,1"/>
<path d="M329,734.5 L400,734.5" fill="none" stroke="#4a4a4a" stroke-width="1" stroke-dasharray="1,1"/>
<path d="M316.5,636 L316.5,776" fill="none" stroke="#4a4a4a" stroke-width="1" stroke-dasharray="1,1"/>
<path d="M317,776.5 L400,776.5" fill="none" stroke="#4a4a4a" stroke-width="1" stroke-dasharray="1,1"/>
<circle cx="433.25" cy="319" r="7.7" fill="#0b0a08"/><path d="M432.75,318.13 L430.02,313.40 A6.47,6.47 0 0 1 436.48,313.40 L433.75,318.13Z" fill="#ffdc00"/><path d="M434.25,319.00 L439.72,319.00 A6.47,6.47 0 0 1 436.48,324.60 L433.75,319.87Z" fill="#ffdc00"/><path d="M432.75,319.87 L430.02,324.60 A6.47,6.47 0 0 1 426.78,319.00 L432.25,319.00Z" fill="#ffdc00"/>
<circle cx="422.7" cy="370" r="7.7" fill="#0b0a08"/><path d="M422.20,369.13 L419.47,364.40 A6.47,6.47 0 0 1 425.93,364.40 L423.20,369.13Z" fill="#ffdc00"/><path d="M423.70,370.00 L429.17,370.00 A6.47,6.47 0 0 1 425.93,375.60 L423.20,370.87Z" fill="#ffdc00"/><path d="M422.20,370.87 L419.47,375.60 A6.47,6.47 0 0 1 416.23,370.00 L421.70,370.00Z" fill="#ffdc00"/>
<circle cx="410.3" cy="411" r="7.7" fill="#0b0a08"/><path d="M409.80,410.13 L407.07,405.40 A6.47,6.47 0 0 1 413.53,405.40 L410.80,410.13Z" fill="#ffdc00"/><path d="M411.30,411.00 L416.77,411.00 A6.47,6.47 0 0 1 413.53,416.60 L410.80,411.87Z" fill="#ffdc00"/><path d="M409.80,411.87 L407.07,416.60 A6.47,6.47 0 0 1 403.83,411.00 L409.30,411.00Z" fill="#ffdc00"/>
<circle cx="421.6" cy="482.6" r="7.7" fill="#0b0a08"/><path d="M421.10,481.73 L418.37,477.00 A6.47,6.47 0 0 1 424.83,477.00 L422.10,481.73Z" fill="#ffdc00"/><path d="M422.60,482.60 L428.07,482.60 A6.47,6.47 0 0 1 424.83,488.20 L422.10,483.47Z" fill="#ffdc00"/><path d="M421.10,483.47 L418.37,488.20 A6.47,6.47 0 0 1 415.13,482.60 L420.60,482.60Z" fill="#ffdc00"/>
<circle cx="435" cy="517.4" r="7.7" fill="#0b0a08"/><path d="M434.50,516.53 L431.77,511.80 A6.47,6.47 0 0 1 438.23,511.80 L435.50,516.53Z" fill="#ffdc00"/><path d="M436.00,517.40 L441.47,517.40 A6.47,6.47 0 0 1 438.23,523.00 L435.50,518.27Z" fill="#ffdc00"/><path d="M434.50,518.27 L431.77,523.00 A6.47,6.47 0 0 1 428.53,517.40 L434.00,517.40Z" fill="#ffdc00"/>
<circle cx="420.2" cy="542.8" r="7.7" fill="#0b0a08"/><path d="M419.70,541.93 L416.97,537.20 A6.47,6.47 0 0 1 423.43,537.20 L420.70,541.93Z" fill="#ffdc00"/><path d="M421.20,542.80 L426.67,542.80 A6.47,6.47 0 0 1 423.43,548.40 L420.70,543.67Z" fill="#ffdc00"/><path d="M419.70,543.67 L416.97,548.40 A6.47,6.47 0 0 1 413.73,542.80 L419.20,542.80Z" fill="#ffdc00"/>
<circle cx="414.3" cy="563" r="7.7" fill="#0b0a08"/><path d="M413.80,562.13 L411.07,557.40 A6.47,6.47 0 0 1 417.53,557.40 L414.80,562.13Z" fill="#ffdc00"/><path d="M415.30,563.00 L420.77,563.00 A6.47,6.47 0 0 1 417.53,568.60 L414.80,563.87Z" fill="#ffdc00"/><path d="M413.80,563.87 L411.07,568.60 A6.47,6.47 0 0 1 407.83,563.00 L413.30,563.00Z" fill="#ffdc00"/>
<circle cx="349" cy="599.3" r="7.7" fill="#0b0a08"/><path d="M348.50,598.43 L345.77,593.70 A6.47,6.47 0 0 1 352.23,593.70 L349.50,598.43Z" fill="#ffdc00"/><path d="M350.00,599.30 L355.47,599.30 A6.47,6.47 0 0 1 352.23,604.90 L349.50,600.17Z" fill="#ffdc00"/><path d="M348.50,600.17 L345.77,604.90 A6.47,6.47 0 0 1 342.53,599.30 L348.00,599.30Z" fill="#ffdc00"/>
<circle cx="351.7" cy="608" r="7.7" fill="#0b0a08"/><path d="M351.20,607.13 L348.47,602.40 A6.47,6.47 0 0 1 354.93,602.40 L352.20,607.13Z" fill="#ffdc00"/><path d="M352.70,608.00 L358.17,608.00 A6.47,6.47 0 0 1 354.93,613.60 L352.20,608.87Z" fill="#ffdc00"/><path d="M351.20,608.87 L348.47,613.60 A6.47,6.47 0 0 1 345.23,608.00 L350.70,608.00Z" fill="#ffdc00"/>
<circle cx="328.6" cy="617" r="7.7" fill="#0b0a08"/><path d="M328.10,616.13 L325.37,611.40 A6.47,6.47 0 0 1 331.83,611.40 L329.10,616.13Z" fill="#ffdc00"/><path d="M329.60,617.00 L335.07,617.00 A6.47,6.47 0 0 1 331.83,622.60 L329.10,617.87Z" fill="#ffdc00"/><path d="M328.10,617.87 L325.37,622.60 A6.47,6.47 0 0 1 322.13,617.00 L327.60,617.00Z" fill="#ffdc00"/>
<circle cx="314" cy="627.8" r="7.7" fill="#0b0a08"/><path d="M313.50,626.93 L310.77,622.20 A6.47,6.47 0 0 1 317.23,622.20 L314.50,626.93Z" fill="#ffdc00"/><path d="M315.00,627.80 L320.47,627.80 A6.47,6.47 0 0 1 317.23,633.40 L314.50,628.67Z" fill="#ffdc00"/><path d="M313.50,628.67 L310.77,633.40 A6.47,6.47 0 0 1 307.53,627.80 L313.00,627.80Z" fill="#ffdc00"/>
<circle cx="256.8" cy="628.8" r="7.7" fill="#0b0a08"/><path d="M256.30,627.93 L253.57,623.20 A6.47,6.47 0 0 1 260.03,623.20 L257.30,627.93Z" fill="#ffdc00"/><path d="M257.80,628.80 L263.27,628.80 A6.47,6.47 0 0 1 260.03,634.40 L257.30,629.67Z" fill="#ffdc00"/><path d="M256.30,629.67 L253.57,634.40 A6.47,6.47 0 0 1 250.33,628.80 L255.80,628.80Z" fill="#ffdc00"/>
<circle cx="285" cy="668.5" r="7.7" fill="#0b0a08"/><path d="M284.50,667.63 L281.77,662.90 A6.47,6.47 0 0 1 288.23,662.90 L285.50,667.63Z" fill="#ffdc00"/><path d="M286.00,668.50 L291.47,668.50 A6.47,6.47 0 0 1 288.23,674.10 L285.50,669.37Z" fill="#ffdc00"/><path d="M284.50,669.37 L281.77,674.10 A6.47,6.47 0 0 1 278.53,668.50 L284.00,668.50Z" fill="#ffdc00"/>
<text x="419.00" y="294.00" font-size="11.6" font-weight="bold" fill="#231f20" text-anchor="start" textLength="46.00" lengthAdjust="spacingAndGlyphs" stroke="#231f20" stroke-width="0.25">Liaoning</text>
<text x="347.50" y="379.00" font-size="11.6" font-weight="bold" fill="#231f20" text-anchor="start" textLength="52.50" lengthAdjust="spacingAndGlyphs" stroke="#231f20" stroke-width="0.25">Shandong</text>
<text x="386.00" y="437.00" font-size="11.6" font-weight="bold" fill="#231f20" text-anchor="start" textLength="39.70" lengthAdjust="spacingAndGlyphs" stroke="#231f20" stroke-width="0.25">Jiangsu</text>
<text x="389.00" y="502.50" font-size="11.6" font-weight="bold" fill="#231f20" text-anchor="start" textLength="47.00" lengthAdjust="spacingAndGlyphs" stroke="#231f20" stroke-width="0.25">Zhejiang</text>
<text x="375.00" y="551.00" font-size="11.6" font-weight="bold" fill="#231f20" text-anchor="start" textLength="31.50" lengthAdjust="spacingAndGlyphs" stroke="#231f20" stroke-width="0.25">Fujian</text>
<text x="302.80" y="587.00" font-size="11.6" font-weight="bold" fill="#231f20" text-anchor="start" textLength="60.50" lengthAdjust="spacingAndGlyphs" stroke="#231f20" stroke-width="0.25">Guangdong</text>
<text x="236.00" y="601.00" font-size="11.6" font-weight="bold" fill="#231f20" text-anchor="start" textLength="44.00" lengthAdjust="spacingAndGlyphs" stroke="#231f20" stroke-width="0.25">Guangxi</text>
<text x="241.25" y="683.75" font-size="11.6" font-weight="bold" fill="#231f20" text-anchor="start" textLength="36.75" lengthAdjust="spacingAndGlyphs" stroke="#231f20" stroke-width="0.25">Hainan</text>
<rect x="265" y="296" width="4.2" height="56.00" fill="#ffd200"/>
<text x="274.30" y="307.00" font-size="14" font-weight="normal" fill="#231f20" text-anchor="start" textLength="77.70" lengthAdjust="spacingAndGlyphs">Hongyan River</text>
<text x="274.30" y="321.25" font-size="14" font-weight="normal" fill="#231f20" text-anchor="start" textLength="108.70" lengthAdjust="spacingAndGlyphs">Nuclear Power Plant</text>
<text x="274.60" y="336.25" font-size="10.6" fill="#231f20" xml:space="preserve" textLength="106.30" lengthAdjust="spacingAndGlyphs"><tspan font-weight="bold" fill="#231f20">Operator:</tspan><tspan font-weight="normal" fill="#3d3a3b"> China General</tspan></text>
<text x="274.60" y="349.50" font-size="10.6" font-weight="normal" fill="#3d3a3b" text-anchor="start" textLength="90.00" lengthAdjust="spacingAndGlyphs">Nuclear Power Group</text>
<rect x="479" y="329.5" width="4.2" height="56.00" fill="#ffd200"/>
<text x="489.20" y="341.50" font-size="14" font-weight="normal" fill="#231f20" text-anchor="start" textLength="88.60" lengthAdjust="spacingAndGlyphs">Haiyang Nuclear</text>
<text x="489.20" y="354.80" font-size="14" font-weight="normal" fill="#231f20" text-anchor="start" textLength="61.80" lengthAdjust="spacingAndGlyphs">Power plant</text>
<text x="489.50" y="372.20" font-size="10.6" fill="#231f20" xml:space="preserve" textLength="100.00" lengthAdjust="spacingAndGlyphs"><tspan font-weight="bold" fill="#231f20">Operator:</tspan><tspan font-weight="normal" fill="#3d3a3b"> China Power</tspan></text>
<text x="489.50" y="384.30" font-size="10.6" font-weight="normal" fill="#3d3a3b" text-anchor="start" textLength="68.40" lengthAdjust="spacingAndGlyphs">Investment Corp</text>
<rect x="491.3" y="402.5" width="4.2" height="45.50" fill="#ffd200"/>
<text x="501.75" y="414.50" font-size="14" font-weight="normal" fill="#231f20" text-anchor="start" textLength="44.50" lengthAdjust="spacingAndGlyphs">Tianwan</text>
<text x="501.75" y="429.50" font-size="14" font-weight="normal" fill="#231f20" text-anchor="start" textLength="77.50" lengthAdjust="spacingAndGlyphs">Nuclear Power</text>
<text x="502.05" y="446.25" font-size="10.6" fill="#231f20" xml:space="preserve" textLength="71.50" lengthAdjust="spacingAndGlyphs"><tspan font-weight="bold" fill="#231f20">Operator:</tspan><tspan font-weight="normal" fill="#3d3a3b"> CNNC</tspan></text>
<rect x="222" y="403.75" width="4.2" height="51.25" fill="#ffd200"/>
<text x="230.50" y="413.75" font-size="14" font-weight="normal" fill="#231f20" text-anchor="start" textLength="89.50" lengthAdjust="spacingAndGlyphs">Qinshan Nuclear</text>
<text x="230.50" y="427.50" font-size="14" font-weight="normal" fill="#231f20" text-anchor="start" textLength="64.50" lengthAdjust="spacingAndGlyphs">Power Plant</text>
<text x="230.80" y="441.25" font-size="10.6" fill="#231f20" xml:space="preserve" textLength="109.50" lengthAdjust="spacingAndGlyphs"><tspan font-weight="bold" fill="#231f20">Operator:</tspan><tspan font-weight="normal" fill="#3d3a3b"> China National</tspan></text>
<text x="230.80" y="454.25" font-size="10.6" font-weight="normal" fill="#3d3a3b" text-anchor="start" textLength="56.50" lengthAdjust="spacingAndGlyphs">Nuclear Corp</text>
<rect x="222" y="468.5" width="4.2" height="78.80" fill="#ffd200"/>
<text x="232.00" y="477.90" font-size="14" font-weight="normal" fill="#231f20" text-anchor="start" textLength="89.30" lengthAdjust="spacingAndGlyphs">Sanmen Nuclear</text>
<text x="232.00" y="490.60" font-size="14" font-weight="normal" fill="#231f20" text-anchor="start" textLength="63.80" lengthAdjust="spacingAndGlyphs">Power Plant</text>
<text x="232.30" y="504.80" font-size="10.6" fill="#231f20" xml:space="preserve" textLength="113.40" lengthAdjust="spacingAndGlyphs"><tspan font-weight="bold" fill="#231f20">Operator:</tspan><tspan font-weight="normal" fill="#3d3a3b"> CNNC, Zhejiang</tspan></text>
<text x="232.30" y="517.00" font-size="10.6" font-weight="normal" fill="#3d3a3b" text-anchor="start" textLength="86.00" lengthAdjust="spacingAndGlyphs">Energy, China Power</text>
<text x="232.30" y="530.80" font-size="10.6" font-weight="normal" fill="#3d3a3b" text-anchor="start" textLength="137.50" lengthAdjust="spacingAndGlyphs">Investment Corp, China Huadian</text>
<text x="232.30" y="543.00" font-size="10.6" font-weight="normal" fill="#3d3a3b" text-anchor="start" textLength="44.00" lengthAdjust="spacingAndGlyphs">Corp, CGN</text>
<rect x="504.25" y="515.5" width="4.2" height="42.50" fill="#ffd200"/>
<text x="512.50" y="526.25" font-size="14" font-weight="normal" fill="#231f20" text-anchor="start" textLength="82.50" lengthAdjust="spacingAndGlyphs">Ningde Nuclear</text>
<text x="512.50" y="540.50" font-size="14" font-weight="normal" fill="#231f20" text-anchor="start" textLength="63.75" lengthAdjust="spacingAndGlyphs">Power Plant</text>
<text x="512.80" y="555.00" font-size="10.6" fill="#231f20" xml:space="preserve" textLength="66.25" lengthAdjust="spacingAndGlyphs"><tspan font-weight="bold" fill="#231f20">Operator:</tspan><tspan font-weight="normal" fill="#3d3a3b"> CGN</tspan></text>
<rect x="472.5" y="568" width="4.2" height="41.50" fill="#ffd200"/>
<text x="482.50" y="581.25" font-size="14" font-weight="normal" fill="#231f20" text-anchor="start" textLength="80.00" lengthAdjust="spacingAndGlyphs">Fuqing Nuclear</text>
<text x="482.50" y="595.50" font-size="14" font-weight="normal" fill="#231f20" text-anchor="start" textLength="63.75" lengthAdjust="spacingAndGlyphs">Power Plant</text>
<text x="482.80" y="610.00" font-size="10.6" fill="#231f20" xml:space="preserve" textLength="65.50" lengthAdjust="spacingAndGlyphs"><tspan font-weight="bold" fill="#231f20">Operator:</tspan><tspan font-weight="normal" fill="#3d3a3b"> CGN</tspan></text>
<rect x="94.5" y="620" width="4.2" height="46.25" fill="#ffd200"/>
<text x="103.00" y="632.50" font-size="14" font-weight="normal" fill="#231f20" text-anchor="start" textLength="84.50" lengthAdjust="spacingAndGlyphs">Fangchenggang</text>
<text x="103.00" y="646.25" font-size="14" font-weight="normal" fill="#231f20" text-anchor="start" textLength="109.50" lengthAdjust="spacingAndGlyphs">Nuclear Power Plant</text>
<text x="103.30" y="665.00" font-size="10.6" fill="#231f20" xml:space="preserve" textLength="64.50" lengthAdjust="spacingAndGlyphs"><tspan font-weight="bold" fill="#231f20">Operator:</tspan><tspan font-weight="normal" fill="#3d3a3b"> CGN</tspan></text>
<rect x="184.5" y="709.25" width="4.2" height="58.25" fill="#ffd200"/>
<text x="193.00" y="720.00" font-size="14" font-weight="normal" fill="#231f20" text-anchor="start" textLength="105.75" lengthAdjust="spacingAndGlyphs">Changjiang Nuclear</text>
<text x="193.00" y="734.25" font-size="14" font-weight="normal" fill="#231f20" text-anchor="start" textLength="64.50" lengthAdjust="spacingAndGlyphs">Power Plant</text>
<text x="193.30" y="753.75" font-size="10.6" fill="#231f20" xml:space="preserve" textLength="90.75" lengthAdjust="spacingAndGlyphs"><tspan font-weight="bold" fill="#231f20">Operator:</tspan><tspan font-weight="normal" fill="#3d3a3b"> CNNC and</tspan></text>
<text x="193.30" y="766.75" font-size="10.6" font-weight="normal" fill="#3d3a3b" text-anchor="start" textLength="92.00" lengthAdjust="spacingAndGlyphs">China Huaneng Group</text>
<rect x="366.25" y="610.5" width="4.2" height="37.50" fill="#ffd200"/>
<text x="373.75" y="620.50" font-size="12" font-weight="normal" fill="#2e2b2c" text-anchor="start" textLength="90.00" lengthAdjust="spacingAndGlyphs">Daya Bay Nuclear</text>
<text x="373.75" y="633.25" font-size="12" font-weight="normal" fill="#2e2b2c" text-anchor="start" textLength="60.00" lengthAdjust="spacingAndGlyphs">Power Plant</text>
<text x="375.25" y="646.75" font-size="10.6" fill="#231f20" xml:space="preserve" textLength="66.25" lengthAdjust="spacingAndGlyphs"><tspan font-weight="bold" fill="#231f20">Operator:</tspan><tspan font-weight="normal" fill="#3d3a3b"> CGN</tspan></text>
<rect x="404.5" y="660" width="4.2" height="37.50" fill="#ffd200"/>
<text x="414.50" y="669.00" font-size="12" font-weight="normal" fill="#2e2b2c" text-anchor="start" textLength="79.50" lengthAdjust="spacingAndGlyphs">Ling Ao Nuclear</text>
<text x="414.50" y="681.50" font-size="12" font-weight="normal" fill="#2e2b2c" text-anchor="start" textLength="60.00" lengthAdjust="spacingAndGlyphs">Power Plant</text>
<text x="414.80" y="695.00" font-size="10.6" fill="#231f20" xml:space="preserve" textLength="65.75" lengthAdjust="spacingAndGlyphs"><tspan font-weight="bold" fill="#231f20">Operator:</tspan><tspan font-weight="normal" fill="#3d3a3b"> CGN</tspan></text>
<rect x="404.5" y="710" width="4.2" height="37.50" fill="#ffd200"/>
<text x="415.00" y="720.00" font-size="12" font-weight="normal" fill="#2e2b2c" text-anchor="start" textLength="80.50" lengthAdjust="spacingAndGlyphs">Taishan Nuclear</text>
<text x="415.00" y="733.00" font-size="12" font-weight="normal" fill="#2e2b2c" text-anchor="start" textLength="59.50" lengthAdjust="spacingAndGlyphs">Power Plant</text>
<text x="415.30" y="746.75" font-size="10.6" fill="#231f20" xml:space="preserve" textLength="65.75" lengthAdjust="spacingAndGlyphs"><tspan font-weight="bold" fill="#231f20">Operator:</tspan><tspan font-weight="normal" fill="#3d3a3b"> CGN</tspan></text>
<rect x="404.5" y="760.75" width="4.2" height="37.25" fill="#ffd200"/>
<text x="415.00" y="770.00" font-size="12" font-weight="normal" fill="#2e2b2c" text-anchor="start" textLength="90.00" lengthAdjust="spacingAndGlyphs">Yangjiang Nuclear</text>
<text x="415.00" y="783.00" font-size="12" font-weight="normal" fill="#2e2b2c" text-anchor="start" textLength="59.50" lengthAdjust="spacingAndGlyphs">Power Plant</text>
<text x="415.30" y="795.00" font-size="10.6" fill="#231f20" xml:space="preserve" textLength="65.75" lengthAdjust="spacingAndGlyphs"><tspan font-weight="bold" fill="#231f20">Operator:</tspan><tspan font-weight="normal" fill="#3d3a3b"> CGN</tspan></text>
<text x="15.70" y="811.50" font-size="9.8" font-weight="normal" fill="#4d4d4f" text-anchor="start" textLength="167.60" lengthAdjust="spacingAndGlyphs">Source: National Energy Administration</text>
<text x="472.50" y="811.00" font-size="9.2" font-weight="normal" fill="#4d4d4f" text-anchor="start" textLength="120.00" lengthAdjust="spacingAndGlyphs">FENG XIUXIA / CHINA DAILY</text>
</g>
<g id="bottom">
<text x="4.00" y="875.00" font-size="26" font-weight="bold" fill="#1a1718" text-anchor="start" textLength="73.50" lengthAdjust="spacingAndGlyphs" stroke="#1a1718" stroke-width="0.9">China’s</text><text x="85.00" y="875.00" font-size="26" font-weight="bold" fill="#1a1718" text-anchor="start" textLength="73.10" lengthAdjust="spacingAndGlyphs" stroke="#1a1718" stroke-width="0.9">energy</text><text x="164.70" y="875.00" font-size="26" font-weight="bold" fill="#1a1718" text-anchor="start" textLength="144.40" lengthAdjust="spacingAndGlyphs" stroke="#1a1718" stroke-width="0.9">consumption</text>
<text x="5.70" y="895.00" font-size="12.6" font-weight="normal" fill="#1c1c1c" text-anchor="start" textLength="262.50" lengthAdjust="spacingAndGlyphs" stroke="#fff" stroke-width="0.25">Unit: million metric tons (in standard coal)</text>
<path d="M31.7,915.5 L10.96,903.04 A24.2,24.2 0 0 0 10.96,927.96Z" fill="#008785"/>
<text x="48.70" y="922.50" font-size="21" font-weight="normal" fill="#141414" text-anchor="start" textLength="83.80" lengthAdjust="spacingAndGlyphs" stroke="#fff" stroke-width="0.55">Petroleum</text>
<path d="M185,916 L164.26,903.54 A24.2,24.2 0 0 0 164.26,928.46Z" fill="#ffd000"/>
<text x="198.30" y="922.50" font-size="21" font-weight="normal" fill="#141414" text-anchor="start" textLength="35.70" lengthAdjust="spacingAndGlyphs" stroke="#fff" stroke-width="0.55">Coal</text>
<path d="M31.7,953.3 L10.96,940.84 A24.2,24.2 0 0 0 10.96,965.76Z" fill="#f7a157"/>
<text x="51.00" y="961.00" font-size="21" font-weight="normal" fill="#141414" text-anchor="start" textLength="92.60" lengthAdjust="spacingAndGlyphs" stroke="#fff" stroke-width="0.55">Natural gas</text>
<path d="M185,953.6 L164.26,941.14 A24.2,24.2 0 0 0 164.26,966.06Z" fill="#a5d16f"/>
<text x="200.70" y="961.00" font-size="21" font-weight="normal" fill="#141414" text-anchor="start" textLength="142.60" lengthAdjust="spacingAndGlyphs" stroke="#fff" stroke-width="0.55">Non-fossil energy</text>
<g id="barrels">
<path d="M398,863.75 L398,951 A30.375,4.5 0 0 0 458.75,951 L458.75,863.75Z" fill="url(#bg1)"/><path d="M397.3,895.6875 A31.075,4.5 0 0 0 459.45,895.6875" fill="none" stroke="#e0920f" stroke-width="1.6" opacity="0.8"/><path d="M397.2,894.2875 A31.175,4.5 0 0 0 459.55,894.2875" fill="none" stroke="#ffc936" stroke-width="2"/><path d="M398,949.8 A30.375,4.5 0 0 0 458.75,949.8" fill="none" stroke="#ffc733" stroke-width="1.5" opacity="0.9"/><ellipse cx="428.375" cy="863.75" rx="30.375" ry="4.5" fill="#fdc138"/><ellipse cx="428.375" cy="864.25" rx="27.975" ry="3.0" fill="#ffcf4a"/><ellipse cx="428.375" cy="863.75" rx="30.075" ry="4.2" fill="none" stroke="#f3ac22" stroke-width="0.6"/><ellipse cx="444.17" cy="864.65" rx="2.6" ry="1" fill="#f5b62e" stroke="#e9a520" stroke-width="0.4"/>
<path d="M516,895.8 L566.7,899 L565.8,962.5 L516,953Z" fill="url(#bg2)"/>
<ellipse cx="532.5" cy="929.6" rx="6" ry="31" fill="none" stroke="#ffcd34" stroke-width="1.5" transform="rotate(-3 532.5 929.6)"/>
<path d="M514,943 L521.5,943.5 L521.5,952 L514,951Z" fill="#5a4a2a"/>
<ellipse cx="566.7" cy="930.8" rx="14.2" ry="31.7" fill="url(#bg3)" stroke="#ffd13d" stroke-width="1.4" transform="rotate(-2 566.7 930.8)"/>
<path d="M542,921 L546.5,918.5" stroke="#ffe9a8" stroke-width="1" fill="none"/>
<path d="M453.75,870.5 L453.75,963.75 A31.625,5.5 0 0 0 517,963.75 L517,870.5Z" fill="url(#bg1)"/><path d="M453.05,901.367 A32.325,5.5 0 0 0 517.7,901.367" fill="none" stroke="#e0920f" stroke-width="1.6" opacity="0.8"/><path d="M452.95,899.967 A32.425,5.5 0 0 0 517.8,899.967" fill="none" stroke="#ffc936" stroke-width="2"/><path d="M453.05,933.91125 A32.325,5.5 0 0 0 517.7,933.91125" fill="none" stroke="#e0920f" stroke-width="1.6" opacity="0.8"/><path d="M452.95,932.51125 A32.425,5.5 0 0 0 517.8,932.51125" fill="none" stroke="#ffc936" stroke-width="2"/><path d="M453.75,962.55 A31.625,5.5 0 0 0 517,962.55" fill="none" stroke="#ffc733" stroke-width="1.5" opacity="0.9"/><ellipse cx="485.375" cy="870.5" rx="31.625" ry="5.5" fill="#fdc138"/><ellipse cx="485.375" cy="871.0" rx="29.225" ry="4.0" fill="#ffcf4a"/><ellipse cx="485.375" cy="870.5" rx="31.325" ry="5.2" fill="none" stroke="#f3ac22" stroke-width="0.6"/><ellipse cx="501.82" cy="871.6" rx="2.6" ry="1" fill="#f5b62e" stroke="#e9a520" stroke-width="0.4"/>
<path d="M380.5,873.75 L380.5,972.5 A34.75,6.25 0 0 0 450,972.5 L450,873.75Z" fill="url(#bg1)"/><path d="M379.8,907.44125 A35.45,6.25 0 0 0 450.7,907.44125" fill="none" stroke="#e0920f" stroke-width="1.6" opacity="0.8"/><path d="M379.7,906.04125 A35.55,6.25 0 0 0 450.8,906.04125" fill="none" stroke="#ffc936" stroke-width="2"/><path d="M379.8,942.39875 A35.45,6.25 0 0 0 450.7,942.39875" fill="none" stroke="#e0920f" stroke-width="1.6" opacity="0.8"/><path d="M379.7,940.99875 A35.55,6.25 0 0 0 450.8,940.99875" fill="none" stroke="#ffc936" stroke-width="2"/><path d="M380.5,971.3 A34.75,6.25 0 0 0 450,971.3" fill="none" stroke="#ffc733" stroke-width="1.5" opacity="0.9"/><ellipse cx="415.25" cy="873.75" rx="34.75" ry="6.25" fill="#fdc138"/><ellipse cx="415.25" cy="874.25" rx="32.35" ry="4.75" fill="#ffcf4a"/><ellipse cx="415.25" cy="873.75" rx="34.45" ry="5.95" fill="none" stroke="#f3ac22" stroke-width="0.6"/><ellipse cx="433.32" cy="875.0" rx="2.6" ry="1" fill="#f5b62e" stroke="#e9a520" stroke-width="0.4"/>
</g>
<path d="M163.60,987.80 A99,99 0 0 1 192.38,1181.52 L183.28,1151.58 A67.7,67.7 0 0 0 163.60,1019.10Z" fill="#008785"/><path d="M163.60,1018.80 A68,68 0 0 1 183.37,1151.86 L174.15,1121.53 A36.3,36.3 0 0 0 163.60,1050.50Z" fill="#006d6d"/><path d="M192.38,1181.52 A99,99 0 0 1 107.34,1168.26 L125.13,1142.51 A67.7,67.7 0 0 0 183.28,1151.58Z" fill="#f7a157"/><path d="M183.37,1151.86 A68,68 0 0 1 124.96,1142.75 L142.97,1116.67 A36.3,36.3 0 0 0 174.15,1121.53Z" fill="#cf8444"/><path d="M107.34,1168.26 A99,99 0 0 1 64.74,1081.59 L95.99,1083.24 A67.7,67.7 0 0 0 125.13,1142.51Z" fill="#ffd400"/><path d="M124.96,1142.75 A68,68 0 0 1 95.69,1083.22 L127.35,1084.89 A36.3,36.3 0 0 0 142.97,1116.67Z" fill="#d6b200"/><path d="M64.74,1081.59 A99,99 0 0 1 163.60,987.80 L163.60,1019.10 A67.7,67.7 0 0 0 95.99,1083.24Z" fill="#a5d16f"/><path d="M95.69,1083.22 A68,68 0 0 1 163.60,1018.80 L163.60,1050.50 A36.3,36.3 0 0 0 127.35,1084.89Z" fill="#8fb762"/><text x="162.80" y="1092.00" font-size="20.4" font-weight="normal" fill="#141414" text-anchor="middle" textLength="35.60" lengthAdjust="spacingAndGlyphs" stroke="#fff" stroke-width="0.55">2013</text>
<path d="M446.10,988.00 A98.8,98.8 0 0 1 493.16,1173.67 L477.49,1144.75 A65.9,65.9 0 0 0 446.10,1020.90Z" fill="#008785"/><path d="M446.10,1020.60 A66.2,66.2 0 0 1 477.63,1145.01 L463.58,1119.07 A36.7,36.7 0 0 0 446.10,1050.10Z" fill="#006d6d"/><path d="M493.16,1173.67 A98.8,98.8 0 0 1 402.86,1175.64 L417.26,1146.05 A65.9,65.9 0 0 0 477.49,1144.75Z" fill="#f7a157"/><path d="M477.63,1145.01 A66.2,66.2 0 0 1 417.13,1146.32 L430.04,1119.80 A36.7,36.7 0 0 0 463.58,1119.07Z" fill="#cf8444"/><path d="M402.86,1175.64 A98.8,98.8 0 0 1 349.66,1108.29 L381.78,1101.13 A65.9,65.9 0 0 0 417.26,1146.05Z" fill="#ffd400"/><path d="M417.13,1146.32 A66.2,66.2 0 0 1 381.48,1101.20 L410.28,1094.78 A36.7,36.7 0 0 0 430.04,1119.80Z" fill="#d6b200"/><path d="M349.66,1108.29 A98.8,98.8 0 0 1 446.10,988.00 L446.10,1020.90 A65.9,65.9 0 0 0 381.78,1101.13Z" fill="#a5d16f"/><path d="M381.48,1101.20 A66.2,66.2 0 0 1 446.10,1020.60 L446.10,1050.10 A36.7,36.7 0 0 0 410.28,1094.78Z" fill="#8fb762"/><text x="445.30" y="1092.00" font-size="20.4" font-weight="normal" fill="#141414" text-anchor="middle" textLength="35.60" lengthAdjust="spacingAndGlyphs" stroke="#fff" stroke-width="0.55">2015</text>
<text x="262.00" y="1022.50" font-size="17" font-weight="bold" fill="#1a1718" text-anchor="start" textLength="28.00" lengthAdjust="spacingAndGlyphs" stroke="#1a1718" stroke-width="0.3">690</text>
<text x="20.00" y="1037.00" font-size="17" font-weight="bold" fill="#1a1718" text-anchor="start" textLength="27.50" lengthAdjust="spacingAndGlyphs" stroke="#1a1718" stroke-width="0.3">368</text>
<text x="24.50" y="1145.00" font-size="17" font-weight="bold" fill="#1a1718" text-anchor="start" textLength="25.50" lengthAdjust="spacingAndGlyphs" stroke="#1a1718" stroke-width="0.3">247</text>
<text x="130.00" y="1214.00" font-size="17" font-weight="bold" fill="#1a1718" text-anchor="start" textLength="29.00" lengthAdjust="spacingAndGlyphs" stroke="#1a1718" stroke-width="0.3">218</text>
<text x="556.90" y="1050.80" font-size="17" font-weight="bold" fill="#1a1718" text-anchor="start" textLength="26.80" lengthAdjust="spacingAndGlyphs" stroke="#1a1718" stroke-width="0.3">730</text>
<text x="307.00" y="1051.00" font-size="17" font-weight="bold" fill="#1a1718" text-anchor="start" textLength="28.80" lengthAdjust="spacingAndGlyphs" stroke="#1a1718" stroke-width="0.3">494</text>
<text x="322.50" y="1159.50" font-size="17" font-weight="bold" fill="#1a1718" text-anchor="start" textLength="27.50" lengthAdjust="spacingAndGlyphs" stroke="#1a1718" stroke-width="0.3">248</text>
<text x="436.00" y="1217.50" font-size="17" font-weight="bold" fill="#1a1718" text-anchor="start" textLength="29.00" lengthAdjust="spacingAndGlyphs" stroke="#1a1718" stroke-width="0.3">262</text>
<line x1="237.5" y1="1017.5" x2="257.5" y2="1017.5" stroke="#6d6e70" stroke-width="1"/>
<line x1="55" y1="1030" x2="80" y2="1030" stroke="#6d6e70" stroke-width="1"/>
<line x1="52.5" y1="1138.5" x2="80" y2="1138.5" stroke="#6d6e70" stroke-width="1"/>
<line x1="142.5" y1="1182.5" x2="142.5" y2="1197.5" stroke="#6d6e70" stroke-width="1"/>
<line x1="537" y1="1045" x2="552.2" y2="1045" stroke="#6d6e70" stroke-width="1"/>
<line x1="341" y1="1045" x2="355" y2="1045" stroke="#6d6e70" stroke-width="1"/>
<line x1="354" y1="1153.5" x2="373.5" y2="1153.5" stroke="#6d6e70" stroke-width="1"/>
<line x1="450" y1="1185" x2="450" y2="1200" stroke="#6d6e70" stroke-width="1"/>
<text x="2.50" y="1240.00" font-size="9.9" font-weight="normal" fill="#3a3a3a" text-anchor="start" textLength="259.00" lengthAdjust="spacingAndGlyphs">Source: CNPC Economic and Technology Research Institute</text>
<text x="491.80" y="1236.30" font-size="8.8" font-weight="normal" fill="#58595b" text-anchor="start" textLength="101.00" lengthAdjust="spacingAndGlyphs">LIU LUNAN / CHINA DAILY</text>
</g>
</svg></body></html>
